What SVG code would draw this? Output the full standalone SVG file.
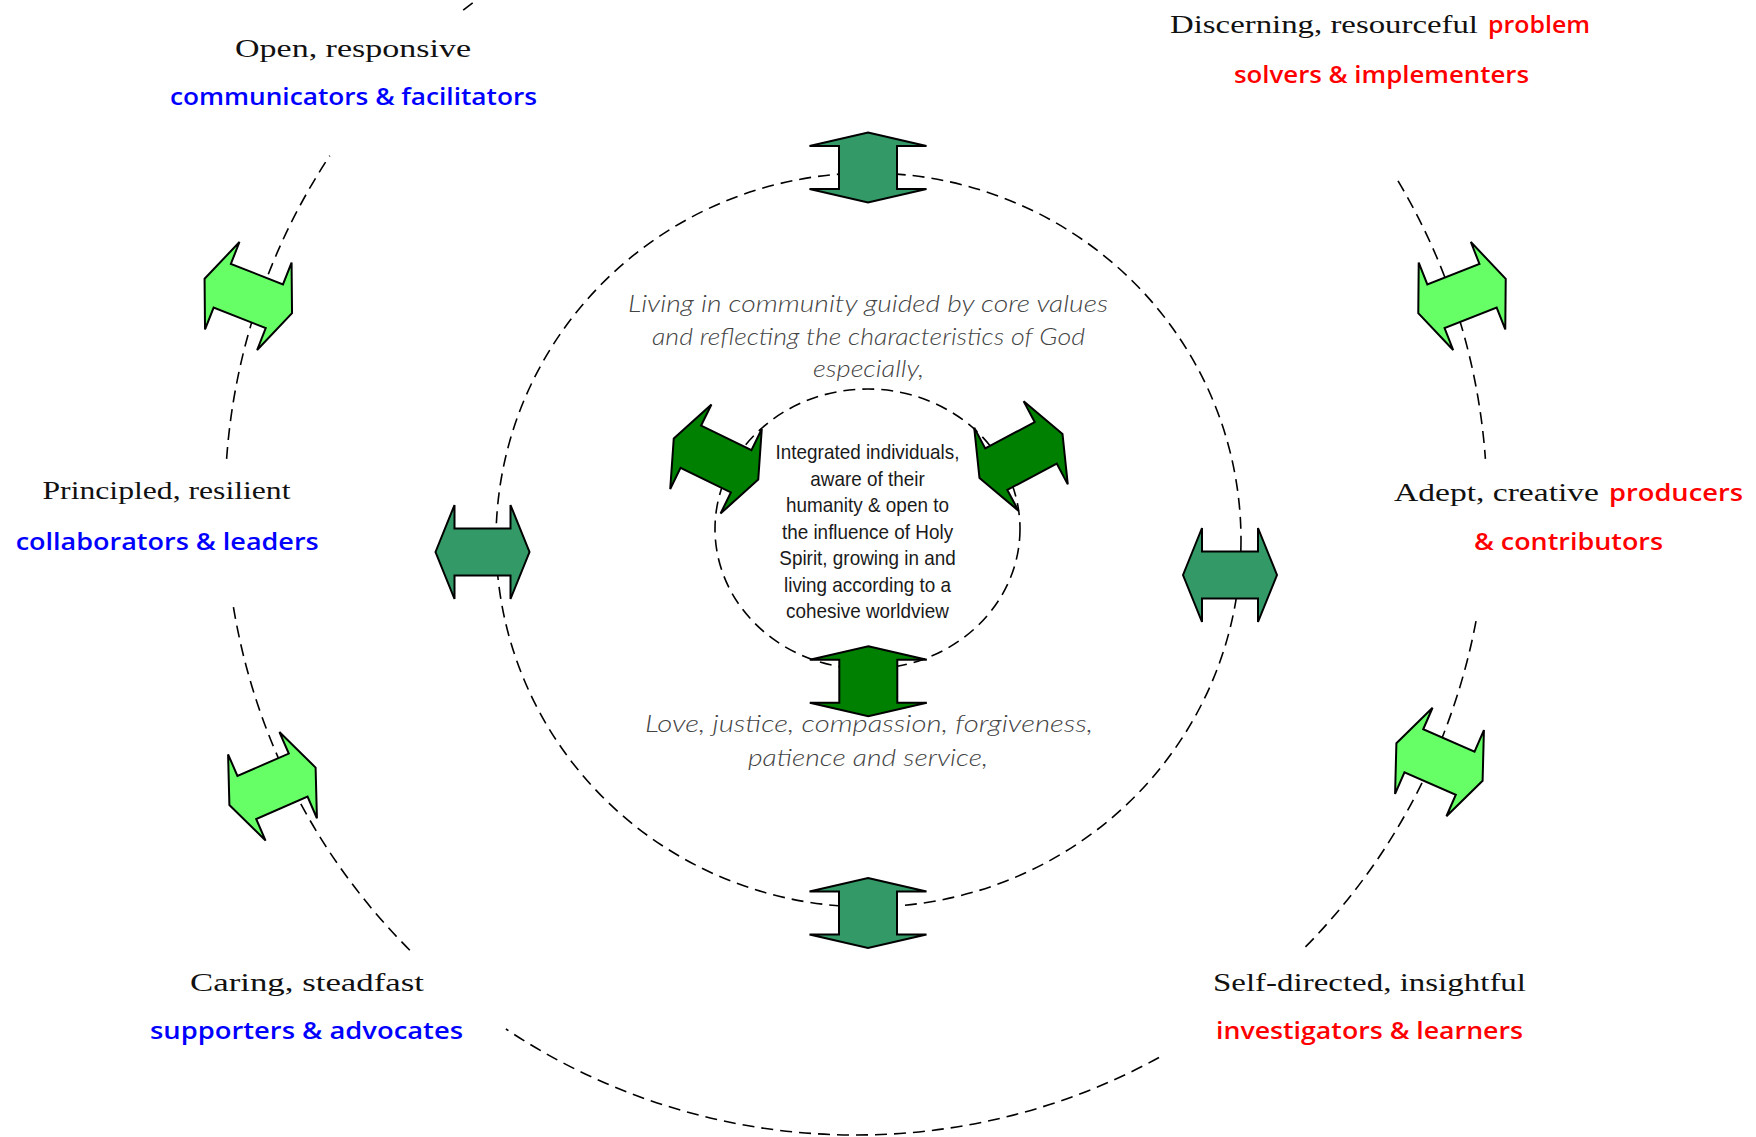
<svg xmlns="http://www.w3.org/2000/svg" xmlns:xlink="http://www.w3.org/1999/xlink" width="1756" height="1137" viewBox="0 0 1756 1137">
<style>
.ring{fill:none;stroke:#000;stroke-width:1.6;stroke-dasharray:12 7}
.arr{stroke:#000;stroke-width:2;stroke-linejoin:miter}
.outer{fill:#66FF66}
.mid{fill:#339966}
.inner{fill:#008000}
.blk{font-family:"Liberation Serif",serif;font-size:26px;fill:#111}
.blue{font-family:"Open Sans","Liberation Sans",sans-serif;font-weight:600;font-size:24px;fill:#0000FF}
.red{font-family:"Open Sans","Liberation Sans",sans-serif;font-weight:600;font-size:24px;fill:#FF0000}
.hw{font-family:Lato,"Open Sans",sans-serif;font-style:italic;font-weight:300;font-size:24px;fill:#444;text-anchor:middle}
.core{font-family:"Liberation Sans",Arial,sans-serif;font-size:21px;fill:#1a1a1a;text-anchor:middle}
</style>
<defs>
<polygon id="arrowH" points="-47,0 -28,-47 -28,-23.5 28,-23.5 28,-47 47,0 28,47 28,23.5 -28,23.5 -28,47"/>
<polygon id="arrowV" points="0,-35 58.5,-21.5 29,-21.5 29,21.5 58.5,21.5 0,35 -58.5,21.5 -29,21.5 -29,-21.5 -58.5,-21.5"/>
</defs>
<rect width="1756" height="1137" fill="#fff"/>
<g id="connectors">
<path class="ring" d="M 463.2 10.2 A 631 631 0 0 1 476.3 0.1"/>
<path class="ring" d="M 226.6 458.9 A 631 631 0 0 1 329.8 155.7"/>
<path class="ring" d="M 409.8 950.2 A 631 631 0 0 1 233.1 604.9"/>
<path class="ring" d="M 1159 1057.5 A 631 631 0 0 1 505.9 1029"/>
<path class="ring" d="M 1476 621.2 A 631 631 0 0 1 1303.8 948.6"/>
<path class="ring" d="M 1398 180.9 A 631 631 0 0 1 1485.4 458.9"/>
<ellipse class="ring" cx="868.5" cy="540" rx="372.5" ry="367"/>
<ellipse class="ring" cx="867.5" cy="529" rx="152.5" ry="140"/>
</g>
<g id="arrow-outer-ul"><use xlink:href="#arrowH" class="arr outer" transform="translate(248.3 296) rotate(21.5)"/></g>
<g id="arrow-outer-ur"><use xlink:href="#arrowH" class="arr outer" transform="translate(1462 296) rotate(-21.5)"/></g>
<g id="arrow-outer-ll"><use xlink:href="#arrowH" class="arr outer" transform="translate(272.5 786.3) rotate(-23.5)"/></g>
<g id="arrow-outer-lr"><use xlink:href="#arrowH" class="arr outer" transform="translate(1439.5 762) rotate(23.5)"/></g>
<g id="arrow-mid-top"><use xlink:href="#arrowV" class="arr mid" transform="translate(868 167.5)"/></g>
<g id="arrow-mid-bottom"><use xlink:href="#arrowV" class="arr mid" transform="translate(868 913)"/></g>
<g id="arrow-mid-left"><use xlink:href="#arrowH" class="arr mid" transform="translate(482.5 552)"/></g>
<g id="arrow-mid-right"><use xlink:href="#arrowH" class="arr mid" transform="translate(1230 575)"/></g>
<g id="arrow-inner-ul"><use xlink:href="#arrowH" class="arr inner" transform="translate(716 459) rotate(26)"/></g>
<g id="arrow-inner-ur"><use xlink:href="#arrowH" class="arr inner" transform="translate(1021 456) rotate(-28)"/></g>
<g id="arrow-inner-bottom"><use xlink:href="#arrowV" class="arr inner" transform="translate(868.3 681.2)"/></g>
<g id="label-top-left">
<text class="blk" x="235" y="57" textLength="236" lengthAdjust="spacingAndGlyphs">Open, responsive</text>
<text class="blue" x="170" y="105" textLength="367" lengthAdjust="spacingAndGlyphs">communicators &amp; facilitators</text>
</g>
<g id="label-top-right">
<text class="blk" x="1170" y="33" textLength="308" lengthAdjust="spacingAndGlyphs">Discerning, resourceful</text>
<text class="red" x="1488" y="33" textLength="102" lengthAdjust="spacingAndGlyphs">problem</text>
<text class="red" x="1234" y="83" textLength="295" lengthAdjust="spacingAndGlyphs">solvers &amp; implementers</text>
</g>
<g id="label-left">
<text class="blk" x="42.5" y="499" textLength="248" lengthAdjust="spacingAndGlyphs">Principled, resilient</text>
<text class="blue" x="15.7" y="550" textLength="303" lengthAdjust="spacingAndGlyphs">collaborators &amp; leaders</text>
</g>
<g id="label-right">
<text class="blk" x="1394" y="501" textLength="205" lengthAdjust="spacingAndGlyphs">Adept, creative</text>
<text class="red" x="1609" y="501" textLength="134" lengthAdjust="spacingAndGlyphs">producers</text>
<text class="red" x="1474" y="550" textLength="189" lengthAdjust="spacingAndGlyphs">&amp; contributors</text>
</g>
<g id="label-bottom-left">
<text class="blk" x="190" y="991" textLength="234" lengthAdjust="spacingAndGlyphs">Caring, steadfast</text>
<text class="blue" x="150" y="1039" textLength="313" lengthAdjust="spacingAndGlyphs">supporters &amp; advocates</text>
</g>
<g id="label-bottom-right">
<text class="blk" x="1213" y="991" textLength="313" lengthAdjust="spacingAndGlyphs">Self-directed, insightful</text>
<text class="red" x="1216" y="1039" textLength="307" lengthAdjust="spacingAndGlyphs">investigators &amp; learners</text>
</g>
<g id="label-community">
<text class="hw" x="868" y="312" textLength="480" lengthAdjust="spacingAndGlyphs">Living in community guided by core values</text>
<text class="hw" x="868.5" y="345" textLength="433" lengthAdjust="spacingAndGlyphs">and reflecting the characteristics of God</text>
<text class="hw" x="868.5" y="377" textLength="111" lengthAdjust="spacingAndGlyphs">especially,</text>
</g>
<g id="label-values">
<text class="hw" x="869" y="732" textLength="448" lengthAdjust="spacingAndGlyphs">Love, justice, compassion, forgiveness,</text>
<text class="hw" x="868" y="766" textLength="240" lengthAdjust="spacingAndGlyphs">patience and service,</text>
</g>
<g id="node-core" transform="translate(867.5 0) scale(0.9 1)">
<text class="core" x="0" y="459.5">Integrated individuals,</text>
<text class="core" x="0" y="486">aware of their</text>
<text class="core" x="0" y="512.5">humanity &amp; open to</text>
<text class="core" x="0" y="539">the influence of Holy</text>
<text class="core" x="0" y="565.5">Spirit, growing in and</text>
<text class="core" x="0" y="592">living according to a</text>
<text class="core" x="0" y="618.5">cohesive worldview</text>
</g>
</svg>
